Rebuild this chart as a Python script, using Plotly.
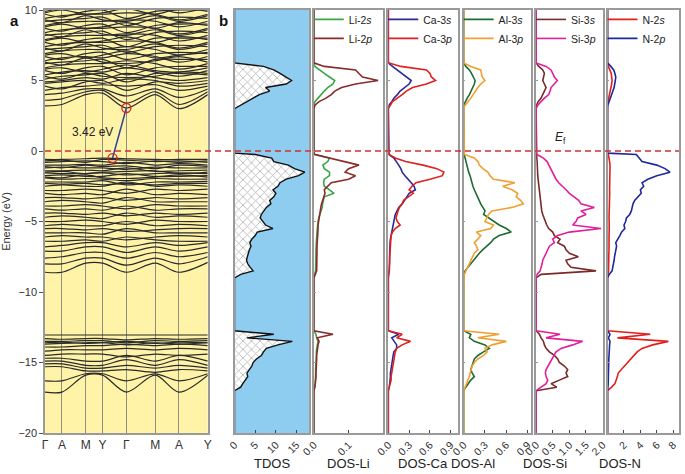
import plotly.graph_objects as go

# ---------------- data ----------------
K_POS = [0.0, 0.104, 0.25, 0.354, 0.5, 0.677, 0.823, 1.0]
K_LABELS = ["Γ", "A", "M", "Y", "Γ", "M", "A", "Y"]

# energies (eV) of bands at the k-path nodes
BANDS_CB = [
    [3.2, 3.3, 4.0, 4.1, 3.05, 4.0, 3.0, 4.0],
    [3.6, 3.7, 4.2, 4.3, 3.4, 4.2, 3.3, 4.2],
    [4.0, 4.1, 4.4, 4.4, 3.9, 4.4, 3.8, 4.4],
    [4.3, 4.5, 4.6, 4.7, 4.6, 4.7, 4.3, 4.6],
    [4.6, 4.4, 4.9, 5.0, 4.3, 4.9, 4.8, 5.0],
    [4.8, 4.9, 5.0, 4.8, 5.1, 5.0, 4.6, 4.8],
    [4.9, 5.0, 5.2, 5.1, 5.5, 5.2, 5.0, 5.2],
    [5.1, 5.3, 5.4, 5.5, 4.9, 5.5, 5.5, 5.4],
    [5.3, 5.1, 5.5, 5.3, 5.2, 5.3, 5.6, 5.5],
    [5.4, 5.6, 5.7, 5.6, 5.9, 5.6, 5.3, 5.7],
    [5.7, 5.5, 5.9, 6.0, 5.4, 5.9, 6.0, 6.0],
    [5.8, 5.9, 5.6, 5.8, 6.1, 5.7, 5.6, 5.9],
    [5.9, 6.1, 6.2, 6.2, 6.4, 6.2, 5.8, 6.2],
    [6.2, 6.3, 6.4, 6.5, 5.9, 6.5, 6.5, 6.5],
    [6.3, 6.1, 6.6, 6.3, 6.2, 6.4, 6.7, 6.3],
    [6.4, 6.6, 6.7, 6.6, 6.9, 6.7, 6.3, 6.7],
    [6.7, 6.5, 6.9, 7.0, 6.5, 6.9, 7.0, 6.9],
    [6.8, 6.9, 6.6, 6.8, 7.1, 6.6, 6.8, 7.0],
    [6.9, 7.1, 7.2, 7.2, 7.4, 7.2, 6.8, 7.2],
    [7.2, 7.3, 7.4, 7.5, 7.0, 7.4, 7.5, 7.4],
    [7.3, 7.1, 7.6, 7.3, 7.2, 7.6, 7.2, 7.6],
    [7.4, 7.6, 7.7, 7.7, 7.8, 7.7, 7.3, 7.7],
    [7.7, 7.5, 7.9, 8.0, 7.4, 8.0, 8.0, 8.0],
    [7.8, 8.0, 7.7, 7.8, 8.1, 7.7, 8.1, 7.9],
    [7.9, 8.1, 8.2, 8.2, 8.3, 8.2, 7.8, 8.2],
    [8.2, 8.3, 8.4, 8.5, 7.9, 8.4, 8.5, 8.4],
    [8.3, 8.1, 8.6, 8.3, 8.2, 8.6, 8.2, 8.6],
    [8.4, 8.6, 8.7, 8.7, 8.8, 8.7, 8.3, 8.7],
    [8.7, 8.5, 8.9, 9.0, 8.4, 8.9, 9.0, 9.0],
    [8.8, 9.0, 8.7, 8.8, 9.1, 8.7, 9.1, 8.9],
    [8.9, 9.1, 9.2, 9.2, 9.3, 9.2, 8.8, 9.2],
    [9.2, 9.3, 9.4, 9.5, 8.9, 9.4, 9.5, 9.4],
    [9.3, 9.1, 9.6, 9.3, 9.2, 9.6, 9.2, 9.6],
    [9.4, 9.6, 9.7, 9.7, 9.8, 9.7, 9.3, 9.7],
    [9.7, 9.5, 9.9, 10.0, 9.4, 9.9, 10.0, 10.0],
    [9.8, 10.0, 9.7, 9.8, 10.1, 9.7, 10.1, 9.9],
    [9.9, 10.1, 10.2, 10.2, 10.3, 10.2, 9.8, 10.2],
]
BANDS_VB = [
    [-0.6, -0.6, -0.55, -0.5, -0.55, -0.6, -0.6, -0.6],
    [-0.7, -0.65, -0.8, -0.6, -0.65, -0.75, -0.7, -0.8],
    [-0.8, -0.75, -0.7, -0.75, -0.9, -0.7, -0.8, -0.7],
    [-1.0, -1.0, -0.95, -1.0, -0.8, -1.0, -0.9, -1.0],
    [-1.1, -1.2, -1.0, -1.1, -1.05, -1.25, -1.0, -1.1],
    [-1.2, -1.15, -1.2, -1.2, -1.3, -1.15, -1.2, -1.2],
    [-1.4, -1.4, -1.35, -1.4, -1.2, -1.45, -1.4, -1.35],
    [-1.5, -1.45, -1.6, -1.5, -1.45, -1.4, -1.6, -1.5],
    [-1.55, -1.6, -1.6, -1.55, -1.7, -1.6, -1.55, -1.6],
    [-1.75, -1.7, -1.8, -1.8, -1.6, -1.8, -1.8, -1.75],
    [-1.85, -1.9, -1.7, -1.9, -1.95, -1.85, -1.7, -1.85],
    [-1.9, -2.0, -1.95, -2.0, -2.1, -1.95, -2.0, -2.0],
    [-2.2, -2.2, -2.2, -2.1, -2.4, -2.2, -2.2, -2.15],
    [-2.3, -2.35, -2.3, -2.4, -2.3, -2.4, -2.3, -2.3],
    [-2.5, -2.4, -2.5, -2.5, -2.2, -2.5, -2.4, -2.5],
    [-2.8, -2.8, -2.7, -2.8, -3.0, -2.7, -2.8, -2.7],
    [-3.0, -3.1, -3.0, -3.1, -2.7, -3.1, -3.0, -3.1],
    [-3.3, -3.3, -3.4, -3.3, -3.5, -3.3, -3.4, -3.3],
    [-3.6, -3.5, -3.6, -3.7, -3.3, -3.6, -3.6, -3.6],
    [-3.9, -3.9, -3.8, -3.9, -4.1, -3.8, -3.9, -3.9],
    [-4.1, -4.2, -4.1, -4.2, -3.9, -4.2, -4.1, -4.1],
    [-4.4, -4.4, -4.5, -4.4, -4.6, -4.4, -4.5, -4.4],
    [-4.7, -4.6, -4.7, -4.8, -4.4, -4.7, -4.6, -4.7],
    [-5.0, -5.0, -4.9, -5.0, -5.2, -4.9, -5.0, -5.0],
    [-5.3, -5.2, -5.3, -5.3, -5.0, -5.3, -5.2, -5.3],
    [-5.5, -5.5, -5.6, -5.5, -5.7, -5.6, -5.5, -5.5],
    [-5.8, -5.8, -5.8, -5.9, -5.5, -5.8, -5.8, -5.8],
    [-6.1, -6.0, -6.1, -6.1, -6.3, -6.1, -6.0, -6.1],
    [-6.4, -6.4, -6.3, -6.4, -6.1, -6.3, -6.4, -6.4],
    [-6.8, -6.7, -6.5, -6.5, -6.8, -6.5, -6.7, -6.5],
    [-7.1, -7.1, -6.8, -6.8, -7.2, -6.8, -7.1, -6.8],
    [-7.6, -7.5, -7.2, -7.2, -7.6, -7.2, -7.5, -7.2],
    [-8.0, -8.0, -7.6, -7.6, -8.1, -7.6, -8.0, -7.5],
    [-8.6, -8.6, -7.95, -7.95, -8.6, -7.95, -8.6, -7.9],
]
BANDS_SC = [
    [-13.05, -13.05, -13.05, -13.05, -13.05, -13.05, -13.05, -13.05],
    [-13.3, -13.35, -13.3, -13.3, -13.4, -13.3, -13.35, -13.3],
    [-13.5, -13.5, -13.45, -13.45, -13.6, -13.45, -13.5, -13.45],
    [-13.6, -13.55, -13.65, -13.6, -13.5, -13.65, -13.55, -13.6],
    [-13.7, -13.65, -13.6, -13.6, -13.75, -13.6, -13.7, -13.6],
    [-13.9, -13.9, -13.8, -13.8, -13.7, -13.8, -13.7, -13.8],
    [-14.2, -14.1, -14.1, -14.1, -14.0, -14.1, -14.0, -14.1],
    [-14.5, -14.4, -14.4, -14.4, -14.6, -14.4, -14.5, -14.4],
    [-14.7, -14.7, -14.9, -14.9, -14.5, -14.9, -14.5, -14.9],
    [-14.9, -14.9, -15.2, -15.2, -14.8, -15.2, -14.8, -15.2],
    [-15.1, -15.1, -15.4, -15.4, -15.2, -15.4, -15.2, -15.4],
    [-15.3, -15.3, -15.6, -15.6, -15.5, -15.7, -15.5, -15.6],
    [-16.3, -16.3, -15.8, -15.8, -16.3, -15.8, -16.3, -15.8],
    [-17.1, -17.1, -15.9, -15.9, -17.1, -15.9, -17.1, -15.9],
]
GAP_K = [0.415, 0.5]          # VBM, CBM k positions
GAP_E = [-0.5, 3.05]          # VBM, CBM energies
GAP_TEXT = "3.42 eV"

# DOS energy grids (eV)
E_CB = [6.25, 6.0, 5.75, 5.5, 5.25, 5.0, 4.75, 4.5, 4.25, 4.0, 3.75, 3.5, 3.25, 3.0]
E_VB = [-0.15, -0.25, -0.5, -0.75, -1.0, -1.25, -1.5, -1.75, -2.0, -2.25, -2.5, -2.75,
        -3.0, -3.25, -3.5, -3.75, -4.0, -4.25, -4.5, -4.75, -5.0, -5.25, -5.5, -5.75,
        -6.0, -6.25, -6.5, -6.75, -7.0, -7.25, -7.5, -7.75, -8.0, -8.25, -8.5, -8.75, -9.0]
E_SC = [-12.75, -13.0, -13.25, -13.5, -13.75, -14.0, -14.25, -14.5, -14.75, -15.0,
        -15.25, -15.5, -15.75, -16.0, -16.25, -16.5, -16.75, -17.0]

TDOS_CB = [0, 7, 9.5, 11, 12.5, 13.8, 12.5, 7.5, 8.5, 6, 4.5, 3, 1.5, 0]
TDOS_VB = [0, 5, 9, 9.5, 13, 14.5, 17, 15.5, 12.5, 11, 10.5, 9.3, 10, 9.5, 8.5, 8.8, 7.7, 7,
           6.5, 6.2, 6.8, 7.5, 9.3, 5.5, 5, 4.2, 3.7, 4.0, 3.6, 3.3, 3.1, 2.9, 3.2, 3.8, 4.5, 1.5, 0]
TDOS_SC = [0, 9.5, 3, 14, 10.5, 7.7, 7, 6.5, 5.3, 4.5, 4.2, 3.7, 3, 3.2, 2.5, 2, 1.5, 0]

LI2S_CB = [0, .003, .015, .03, .045, .06, .055, .04, .03, .022, .012, .003, 0, 0]
LI2S_VB = [0, .003, .045, .04, .026, .03, .045, .045, .03, .028, .03, .045, .058, .03, .027, .025,
           .024, .02, .016, .014, .012, .01, .01, .009, .008, .008, .007, .007, .006, .006, .006,
           .005, .005, .005, .005, .002, 0]
LI2S_SC = [0, .006, .008, .012, .01, .008, .007, .007, .006, .006, .005, .005, .005, .005, .004, .004, .002, 0]
LI2P_CB = [0, .03, .12, .13, .14, .185, .12, .08, .06, .05, .035, .015, .003, 0]
LI2P_VB = [0, .003, .045, .085, .13, .1, .09, .12, .1, .05, .04, .03, .032, .028, .025, .022, .02,
           .018, .016, .014, .013, .012, .012, .011, .01, .01, .01, .009, .009, .009, .008, .008,
           .008, .008, .008, .004, 0]
LI2P_SC = [0, .055, .01, .015, .012, .01, .009, .008, .008, .007, .007, .006, .006, .006, .005, .005, .003, 0]

CA3S_CB = [0, .06, .13, .2, .26, .33, .3, .24, .17, .13, .08, .05, .01, 0]
CA3S_VB = [0, .01, .08, .12, .15, .18, .2, .24, .29, .33, .37, .39, .3, .27, .24, .2, .15, .12, .1,
           .09, .08, .07, .06, .04, .03, .03, .025, .025, .02, .02, .02, .015, .015, .012, .01, .005, 0]
CA3S_SC = [0, .15, .05, .08, .12, .12, .08, .07, .06, .05, .04, .04, .03, .03, .03, .02, .01, 0]
CA3P_CB = [0, .18, .55, .6, .62, .68, .55, .35, .26, .2, .12, .06, .03, 0]
CA3P_VB = [0, .01, .1, .25, .5, .7, .8, .78, .6, .4, .34, .3, .36, .28, .22, .2, .16, .14, .12, .11,
           .13, .17, .1, .06, .04, .035, .03, .03, .025, .025, .02, .02, .02, .018, .015, .005, 0]
CA3P_SC = [0, .2, .12, .32, .2, .12, .1, .09, .08, .07, .06, .05, .05, .04, .04, .03, .02, 0]

AL3S_CB = [0, .03, .08, .11, .13, .16, .15, .13, .1, .08, .05, .02, 0, 0]
AL3S_VB = [0, .005, .02, .03, .04, .05, .07, .09, .1, .12, .13, .15, .17, .19, .22, .24, .27, .3,
           .28, .35, .43, .5, .6, .67, .5, .42, .38, .32, .27, .22, .18, .14, .1, .05, .02, .005, 0]
AL3S_SC = [0, .1, .08, .15, .3, .36, .28, .2, .15, .13, .11, .1, .12, .15, .1, .06, .03, 0]
AL3P_CB = [0, .1, .24, .25, .26, .3, .24, .2, .17, .13, .1, .06, .02, 0]
AL3P_VB = [0, .01, .15, .2, .22, .27, .34, .37, .42, .72, .55, .68, .76, .74, .8, .84, .68, .4, .35,
           .32, .3, .42, .38, .18, .24, .2, .15, .18, .2, .15, .12, .1, .08, .05, .03, .01, 0]
AL3P_SC = [0, .5, .2, .6, .4, .3, .33, .28, .2, .15, .12, .1, .09, .08, .06, .05, .03, 0]

SI3S_CB = [0, .08, .2, .25, .22, .2, .25, .3, .25, .2, .15, .06, .01, 0]
SI3S_VB = [0, .01, .02, .03, .03, .04, .05, .05, .06, .07, .08, .09, .1, .11, .12, .13, .14, .17,
           .2, .25, .28, .32, .38, .5, .55, .72, .65, .85, .9, 1.0, 1.27, .9, .95, 1.05, 1.8, .15, 0]
SI3S_SC = [0, .1, .15, .22, .25, .3, .4, .55, .65, .7, .85, .95, .9, .95, .7, .45, .62, 0]
SI3P_CB = [0, .3, .45, .5, .55, .64, .55, .45, .42, .38, .25, .14, .05, 0]
SI3P_VB = [0, .03, .22, .33, .38, .43, .5, .55, .6, .68, .8, .9, 1.0, 1.15, 1.28, 1.35, 1.75, 1.35,
           1.5, 1.25, 1.2, 1.1, 1.95, 1.0, .65, .5, .55, .4, .35, .28, .25, .2, .18, .15, .12, .03, 0]
SI3P_SC = [0, .72, .3, 1.4, 1.1, .75, .6, .55, .48, .42, .35, .3, .28, .3, .35, .3, .15, 0]

N2S_CB = [0, .1, .3, .45, .5, .55, .5, .4, .35, .25, .15, .05, 0, 0]
N2S_VB = [0, .1, .2, .25, .3, .28, .3, .32, .3, .28, .26, .25, .26, .24, .22, .22, .2, .2, .2, .18,
          .2, .22, .24, .2, .18, .2, .22, .2, .18, .16, .16, .15, .15, .14, .12, .05, 0]
N2S_SC = [0, 5.2, 1.2, 7.4, 5.5, 4.2, 3.6, 3.2, 2.8, 2.4, 2.0, 1.6, 1.3, 1.2, 1.0, .9, .5, 0]
N2P_CB = [0, .4, .75, .9, 1.0, .95, .9, .8, .65, .5, .35, .15, .03, 0]
N2P_VB = [0, 3.5, 3.9, 4.2, 6.0, 7.0, 7.6, 6.0, 4.9, 4.2, 4.4, 4.0, 4.1, 3.7, 3.3, 3.1, 3.0, 2.9,
          2.7, 2.3, 2.2, 2.0, 2.1, 1.7, 1.5, 1.2, 1.0, 1.1, 1.0, .9, .85, .8, .7, .6, .55, .2, 0]
N2P_SC = [0, .3, .1, .3, .25, .2, .2, .18, .15, .15, .12, .12, .1, .1, .1, .08, .05, 0]

E_TOP, E_BOTTOM = 10.0, -20.0
E_ALL = [E_TOP] + E_CB + E_VB + E_SC + [E_BOTTOM]


def full(cb, vb, sc):
    return [0] + cb + vb + sc + [0]


FONT = "Arial, Liberation Sans, sans-serif"

PANELS = [
    (3, "DOS-Li", [0, 0.2], [0.0, 0.1], ".1f", "legend",
     [("Li-2<i>s</i>", full(LI2S_CB, LI2S_VB, LI2S_SC), "#3aa544"),
      ("Li-2<i>p</i>", full(LI2P_CB, LI2P_VB, LI2P_SC), "#8b2a2a")]),
    (4, "DOS-Ca", [0, 1.0], [0.0, 0.3, 0.6, 0.9], ".1f", "legend2",
     [("Ca-3<i>s</i>", full(CA3S_CB, CA3S_VB, CA3S_SC), "#2a2a9a"),
      ("Ca-3<i>p</i>", full(CA3P_CB, CA3P_VB, CA3P_SC), "#e0201e")]),
    (5, "DOS-Al", [0, 0.95], [0.0, 0.3, 0.6, 0.9], ".1f", "legend3",
     [("Al-3<i>s</i>", full(AL3S_CB, AL3S_VB, AL3S_SC), "#1f6b32"),
      ("Al-3<i>p</i>", full(AL3P_CB, AL3P_VB, AL3P_SC), "#f0a030")]),
    (6, "DOS-Si", [0, 2.0], [0.0, 0.5, 1.0, 1.5, 2.0], ".1f", "legend4",
     [("Si-3<i>s</i>", full(SI3S_CB, SI3S_VB, SI3S_SC), "#7a2a2a"),
      ("Si-3<i>p</i>", full(SI3P_CB, SI3P_VB, SI3P_SC), "#e0209a")]),
    (7, "DOS-N", [0, 8.7], [2, 4, 6, 8], "d", "legend5",
     [("N-2<i>s</i>", full(N2S_CB, N2S_VB, N2S_SC), "#e0201e"),
      ("N-2<i>p</i>", full(N2P_CB, N2P_VB, N2P_SC), "#1f2a9a")]),
]

DOMAINS = {
    1: [0.0, 0.2567],
    2: [0.2989, 0.4163],
    3: [0.4241, 0.5336],
    4: [0.5415, 0.6510],
    5: [0.6604, 0.7668],
    6: [0.7746, 0.8795],
    7: [0.8873, 1.0],
}

fig = go.Figure()

# ---- band structure ----
for band in BANDS_CB + BANDS_VB + BANDS_SC:
    fig.add_trace(go.Scatter(x=K_POS, y=band, mode="lines", xaxis="x", yaxis="y",
                             line=dict(color="#2b2b2b", width=1.2, shape="spline", smoothing=0.9),
                             showlegend=False, hoverinfo="skip"))
fig.add_trace(go.Scatter(x=GAP_K, y=GAP_E, mode="lines+markers", xaxis="x", yaxis="y",
                         line=dict(color="#3040a0", width=1.5),
                         marker=dict(symbol="circle-open", size=9, color="#e02020",
                                     line=dict(width=1.3)),
                         showlegend=False))

# ---- TDOS ----
fig.add_trace(go.Scatter(x=full(TDOS_CB, TDOS_VB, TDOS_SC), y=E_ALL, mode="lines",
                         xaxis="x2", yaxis="y2", fill="tozerox", fillcolor="white",
                         fillpattern=dict(shape="x", fgcolor="#666666", bgcolor="white",
                                          size=6, solidity=0.25),
                         line=dict(color="#111111", width=1.4), showlegend=False))

# ---- PDOS ----
for idx, title, rng, tv, tf, leg, series in PANELS:
    for name, vals, col in series:
        fig.add_trace(go.Scatter(x=vals, y=E_ALL, mode="lines", name=name,
                                 xaxis=f"x{idx}", yaxis=f"y{idx}", legend=leg,
                                 line=dict(color=col, width=1.6)))

layout = dict(
    width=685, height=474,
    margin=dict(l=45, r=1, t=10, b=41),
    paper_bgcolor="white", plot_bgcolor="white",
    font=dict(family=FONT, size=11, color="#222"),
    showlegend=True,
)

frame = dict(showline=True, mirror=True, linecolor="#9a9a9a", linewidth=1.5, zeroline=False)

layout["xaxis"] = dict(domain=DOMAINS[1], range=[0, 1], anchor="y",
                       tickvals=K_POS, ticktext=K_LABELS, ticks="",
                       showgrid=True, gridcolor="#8e8e7e", gridwidth=1,
                       tickfont=dict(size=12, color="#333"), **frame)
layout["yaxis"] = dict(domain=[0, 1], range=[-20, 10], anchor="x",
                       tickvals=[-20, -15, -10, -5, 0, 5, 10], ticks="outside", ticklen=4,
                       tickcolor="#555", showgrid=False,
                       tickfont=dict(size=11, color="#333"),
                       title=dict(text="Energy (eV)", font=dict(size=11, color="#333"), standoff=8),
                       **frame)

layout["xaxis2"] = dict(domain=DOMAINS[2], range=[0, 18], anchor="y2",
                        tickvals=[0, 5, 10, 15], tickformat="d", tickangle=-45,
                        ticks="inside", ticklen=3, tickcolor="#444", showgrid=False,
                        tickfont=dict(size=10.5, color="#333"), **frame)
layout["yaxis2"] = dict(domain=[0, 1], matches="y", anchor="x2", showticklabels=False,
                        ticks="", showgrid=False, **frame)

for idx, title, rng, tv, tf, leg, series in PANELS:
    layout[f"xaxis{idx}"] = dict(domain=DOMAINS[idx], range=rng, anchor=f"y{idx}",
                                 tickvals=tv, tickformat=tf, tickangle=-45,
                                 ticks="inside", ticklen=3, tickcolor="#444", showgrid=False,
                                 tickfont=dict(size=10.5, color="#333"), **frame)
    layout[f"yaxis{idx}"] = dict(domain=[0, 1], matches="y", anchor=f"x{idx}",
                                 showticklabels=False, ticks="inside", ticklen=2,
                                 tickcolor="#999", dtick=5, showgrid=False, **frame)
    layout[leg] = dict(x=DOMAINS[idx][0] - 0.008, y=1.012, xanchor="left", yanchor="top",
                       bgcolor="rgba(0,0,0,0)", font=dict(size=10.5, color="#222"),
                       tracegroupgap=0, itemwidth=30)

fig.update_layout(**layout)

# backgrounds
fig.add_shape(type="rect", xref="x domain", yref="y domain", x0=0, x1=1, y0=0, y1=1,
              fillcolor="#fff3a8", line=dict(width=0), layer="below")
fig.add_shape(type="rect", xref="x2 domain", yref="y2 domain", x0=0, x1=1, y0=0, y1=1,
              fillcolor="#8ecdf0", line=dict(width=0), layer="below")
# Fermi level
fig.add_shape(type="line", xref="paper", yref="y", x0=0, x1=1, y0=0, y1=0,
              line=dict(color="#d03030", width=1.5, dash="6px,4px"), layer="above")

annotations = [
    dict(text=GAP_TEXT, x=0.29, y=1.35, xref="x", yref="y", showarrow=False,
         font=dict(size=12, color="#222")),
    dict(text="<i>E</i><sub>f</sub>", x=0.8247, y=0.9, xref="paper", yref="y",
         showarrow=False, font=dict(size=12, color="#222")),
    dict(text="<b>a</b>", x=-0.058, y=1.0, xref="paper", yref="paper", showarrow=False,
         font=dict(size=15, color="#111")),
    dict(text="<b>b</b>", x=0.271, y=1.0, xref="paper", yref="paper", showarrow=False,
         font=dict(size=15, color="#111")),
    dict(text="TDOS", x=sum(DOMAINS[2]) / 2, y=-0.071, xref="paper", yref="paper",
         showarrow=False, yanchor="middle", font=dict(size=13, color="#222")),
]
for idx, title, rng, tv, tf, leg, series in PANELS:
    annotations.append(dict(text=title, x=sum(DOMAINS[idx]) / 2, y=-0.071, xref="paper",
                            yref="paper", showarrow=False, yanchor="middle",
                            font=dict(size=13, color="#222")))
fig.update_layout(annotations=annotations)

fig.write_html("out.html", config={"displayModeBar": False},
               post_script="document.body.style.margin='0';")
